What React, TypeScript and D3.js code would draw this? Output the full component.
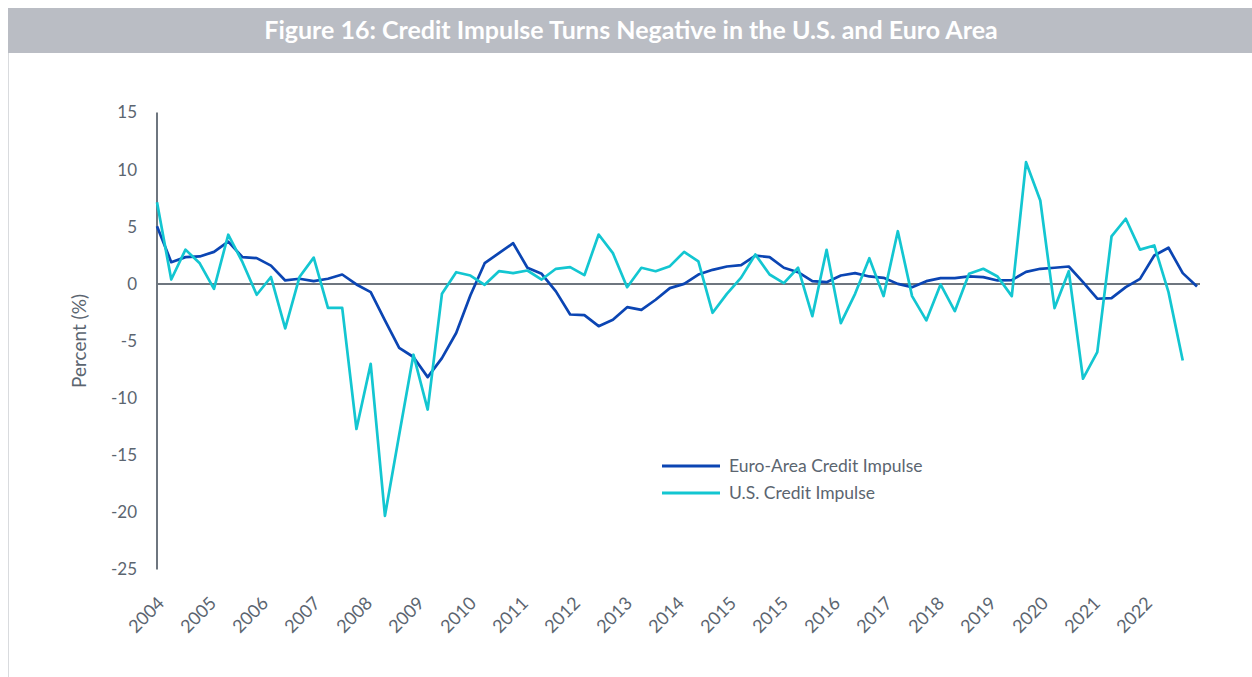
import React from "react";
import * as d3 from "d3";

const euroArea: number[] = [
  5.05, 1.9, 2.34, 2.4, 2.8, 3.7, 2.34, 2.25, 1.6, 0.3,
  0.45, 0.24, 0.45, 0.82, -0.05, -0.72, -3.2, -5.6, -6.4, -8.16,
  -6.5, -4.3, -1.0, 1.81, 2.69, 3.56, 1.41, 0.88, -0.66, -2.68,
  -2.74, -3.7, -3.14, -2.04, -2.27, -1.39, -0.37, 0.0, 0.82, 1.23,
  1.52, 1.64, 2.48, 2.34, 1.41, 1.02, 0.24, 0.15, 0.73, 0.94,
  0.65, 0.53, 0.0, -0.29, 0.24, 0.5, 0.5, 0.65, 0.59, 0.3,
  0.33, 1.05, 1.32, 1.41, 1.52, 0.15, -1.3, -1.25, -0.29, 0.44,
  2.48, 3.16, 0.94, -0.23,
];

const usImpulse: number[] = [
  7.15, 0.38, 3.0, 1.8, -0.43, 4.3, 1.9, -0.95, 0.6, -3.9,
  0.6, 2.3, -2.1, -2.1, -12.7, -7.0, -20.3, -13.2, -6.2, -11.0,
  -0.87, 1.02, 0.73, -0.08, 1.11, 0.94, 1.17, 0.38, 1.32, 1.46,
  0.76, 4.32, 2.69, -0.29, 1.41, 1.11, 1.55, 2.8, 1.96, -2.53,
  -0.87, 0.55, 2.57, 0.82, 0.06, 1.41, -2.82, 2.98, -3.44, -0.87,
  2.25, -1.07, 4.61, -1.07, -3.2, -0.05, -2.39, 0.88, 1.32, 0.65,
  -1.07, 10.65, 7.3, -2.12, 1.11, -8.3, -5.97, 4.15, 5.7, 3.0,
  3.36, -0.72, -6.7,
];

const xLabels: string[] = [
  "2004", "2005", "2006", "2007", "2008", "2009", "2010", "2011", "2012", "2013",
  "2014", "2015", "2015", "2016", "2017", "2018", "2019", "2020", "2021", "2022",
];

const yTicks: number[] = [15, 10, 5, 0, -5, -10, -15, -20, -25];

const seriesNames: string[] = ["Euro-Area Credit Impulse", "U.S. Credit Impulse"];
const seriesColors: string[] = ["#0b45b3", "#13c6d1"];

const W = 1252;
const H = 677;
const FONT = "Lato, 'Source Sans Pro', 'Noto Sans', sans-serif";
const TEXT = "#5b6570";
const AXIS = "#6e767f";

export default function App() {
  const x0 = 157;
  const x1 = 1197;
  const x = d3.scaleLinear().domain([0, euroArea.length - 1]).range([x0, x1]);
  const xLab = d3.scaleLinear().domain([0, xLabels.length]).range([x0, x1]);
  const y = d3.scaleLinear().domain([-25, 15]).range([569.5, 112.5]);

  const line = d3
    .line<number>()
    .x((_, i) => x(i))
    .y((d) => y(d));

  const series = [euroArea, usImpulse];

  return (
    <svg
      width={W}
      height={H}
      style={{ position: "absolute", left: 0, top: 0, display: "block", background: "#fff" }}
      fontFamily={FONT}
    >
      <rect x={8} y={8} width={W - 8} height={45} fill="#babdc4" />
      <line x1={8.5} x2={8.5} y1={53} y2={H} stroke="#d9dbde" strokeWidth={1} />
      <text
        x={631}
        y={39}
        textAnchor="middle"
        fill="#fff"
        fontSize={25}
        fontWeight={700}
      >
        Figure 16: Credit Impulse Turns Negative in the U.S. and Euro Area
      </text>

      {yTicks.map((t) => (
        <text
          key={t}
          x={137}
          y={y(t)}
          dy="0.35em"
          textAnchor="end"
          fill={TEXT}
          fontSize={17}
        >
          {t}
        </text>
      ))}

      <text
        transform={`translate(86, ${y(-5)}) rotate(-90)`}
        textAnchor="middle"
        fill={TEXT}
        fontSize={19}
      >
        Percent (%)
      </text>

      {xLabels.map((lab, i) => (
        <text
          key={i}
          transform={`translate(${xLab(i) + 4}, ${600}) rotate(-45)`}
          textAnchor="end"
          dy="0.35em"
          fill={TEXT}
          fontSize={18}
        >
          {lab}
        </text>
      ))}

      <line x1={x0} x2={x0} y1={y(15)} y2={y(-25)} stroke={AXIS} strokeWidth={2} />
      <line x1={x0} x2={x1 + 3} y1={y(0)} y2={y(0)} stroke={AXIS} strokeWidth={2} />

      {series.map((s, k) => (
        <path
          key={k}
          d={line(s) || ""}
          fill="none"
          stroke={seriesColors[k]}
          strokeWidth={2.7}
          strokeLinejoin="round"
        />
      ))}

      {seriesNames.map((n, k) => (
        <g key={n} transform={`translate(662, ${466 + k * 27})`}>
          <line x1={0} x2={58} y1={0} y2={0} stroke={seriesColors[k]} strokeWidth={3} />
          <text x={67} y={0} dy="0.35em" fill={TEXT} fontSize={17.5}>
            {n}
          </text>
        </g>
      ))}
    </svg>
  );
}
